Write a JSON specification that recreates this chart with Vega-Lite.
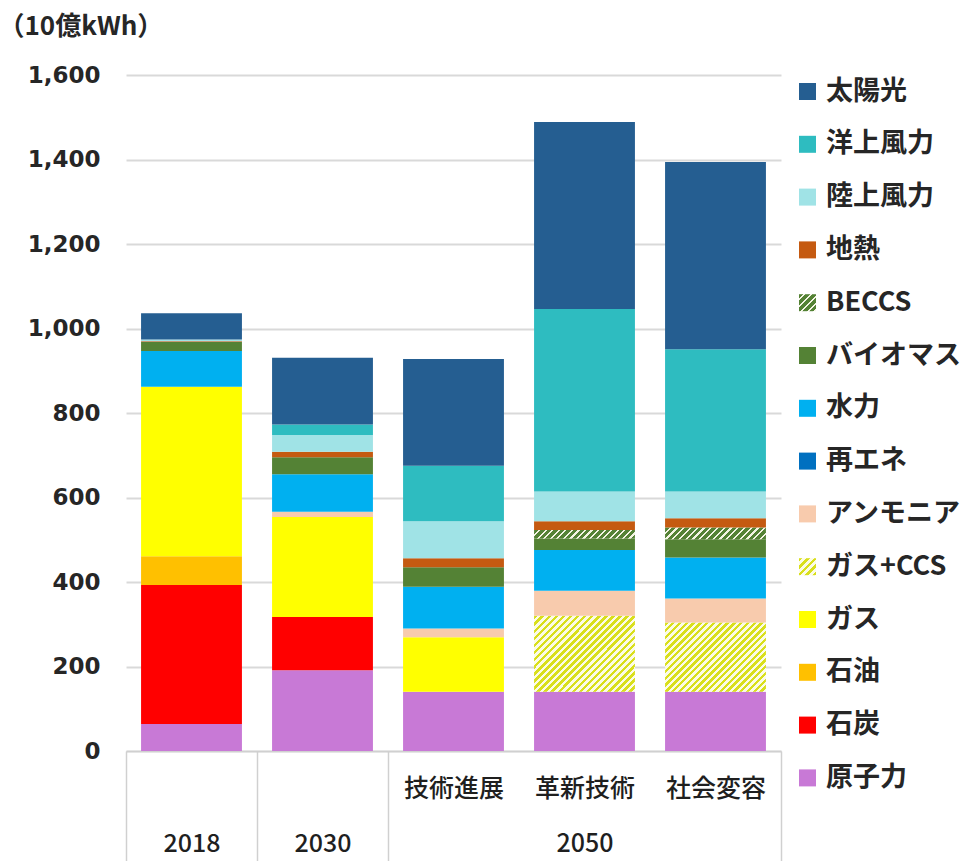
{
  "$schema": "https://vega.github.io/schema/vega-lite/v6.json",
  "width": 655,
  "height": 676,
  "autosize": {"type": "none"},
  "padding": {"left": 126, "top": 75, "right": 190, "bottom": 110},
  "background": "white",
  "config": {"view": {"stroke": null}},
  "params": [
    {"name": "gasStops", "value": [
      {"offset":0,"color":"#d9df1b"},{"offset":0.02,"color":"#d9df1b"},{"offset":0.02,"color":"#fbfbe6"},{"offset":0.04,"color":"#fbfbe6"},
      {"offset":0.04,"color":"#d9df1b"},{"offset":0.06,"color":"#d9df1b"},{"offset":0.06,"color":"#fbfbe6"},{"offset":0.08,"color":"#fbfbe6"},
      {"offset":0.08,"color":"#d9df1b"},{"offset":0.1,"color":"#d9df1b"},{"offset":0.1,"color":"#fbfbe6"},{"offset":0.12,"color":"#fbfbe6"},
      {"offset":0.12,"color":"#d9df1b"},{"offset":0.14,"color":"#d9df1b"},{"offset":0.14,"color":"#fbfbe6"},{"offset":0.16,"color":"#fbfbe6"},
      {"offset":0.16,"color":"#d9df1b"},{"offset":0.18,"color":"#d9df1b"},{"offset":0.18,"color":"#fbfbe6"},{"offset":0.2,"color":"#fbfbe6"},
      {"offset":0.2,"color":"#d9df1b"},{"offset":0.22,"color":"#d9df1b"},{"offset":0.22,"color":"#fbfbe6"},{"offset":0.24,"color":"#fbfbe6"},
      {"offset":0.24,"color":"#d9df1b"},{"offset":0.26,"color":"#d9df1b"},{"offset":0.26,"color":"#fbfbe6"},{"offset":0.28,"color":"#fbfbe6"},
      {"offset":0.28,"color":"#d9df1b"},{"offset":0.3,"color":"#d9df1b"},{"offset":0.3,"color":"#fbfbe6"},{"offset":0.32,"color":"#fbfbe6"},
      {"offset":0.32,"color":"#d9df1b"},{"offset":0.34,"color":"#d9df1b"},{"offset":0.34,"color":"#fbfbe6"},{"offset":0.36,"color":"#fbfbe6"},
      {"offset":0.36,"color":"#d9df1b"},{"offset":0.38,"color":"#d9df1b"},{"offset":0.38,"color":"#fbfbe6"},{"offset":0.4,"color":"#fbfbe6"},
      {"offset":0.4,"color":"#d9df1b"},{"offset":0.42,"color":"#d9df1b"},{"offset":0.42,"color":"#fbfbe6"},{"offset":0.44,"color":"#fbfbe6"},
      {"offset":0.44,"color":"#d9df1b"},{"offset":0.46,"color":"#d9df1b"},{"offset":0.46,"color":"#fbfbe6"},{"offset":0.48,"color":"#fbfbe6"},
      {"offset":0.48,"color":"#d9df1b"},{"offset":0.5,"color":"#d9df1b"},{"offset":0.5,"color":"#fbfbe6"},{"offset":0.52,"color":"#fbfbe6"},
      {"offset":0.52,"color":"#d9df1b"},{"offset":0.54,"color":"#d9df1b"},{"offset":0.54,"color":"#fbfbe6"},{"offset":0.56,"color":"#fbfbe6"},
      {"offset":0.56,"color":"#d9df1b"},{"offset":0.58,"color":"#d9df1b"},{"offset":0.58,"color":"#fbfbe6"},{"offset":0.6,"color":"#fbfbe6"},
      {"offset":0.6,"color":"#d9df1b"},{"offset":0.62,"color":"#d9df1b"},{"offset":0.62,"color":"#fbfbe6"},{"offset":0.64,"color":"#fbfbe6"},
      {"offset":0.64,"color":"#d9df1b"},{"offset":0.66,"color":"#d9df1b"},{"offset":0.66,"color":"#fbfbe6"},{"offset":0.68,"color":"#fbfbe6"},
      {"offset":0.68,"color":"#d9df1b"},{"offset":0.7,"color":"#d9df1b"},{"offset":0.7,"color":"#fbfbe6"},{"offset":0.72,"color":"#fbfbe6"},
      {"offset":0.72,"color":"#d9df1b"},{"offset":0.74,"color":"#d9df1b"},{"offset":0.74,"color":"#fbfbe6"},{"offset":0.76,"color":"#fbfbe6"},
      {"offset":0.76,"color":"#d9df1b"},{"offset":0.78,"color":"#d9df1b"},{"offset":0.78,"color":"#fbfbe6"},{"offset":0.8,"color":"#fbfbe6"},
      {"offset":0.8,"color":"#d9df1b"},{"offset":0.82,"color":"#d9df1b"},{"offset":0.82,"color":"#fbfbe6"},{"offset":0.84,"color":"#fbfbe6"},
      {"offset":0.84,"color":"#d9df1b"},{"offset":0.86,"color":"#d9df1b"},{"offset":0.86,"color":"#fbfbe6"},{"offset":0.88,"color":"#fbfbe6"},
      {"offset":0.88,"color":"#d9df1b"},{"offset":0.9,"color":"#d9df1b"},{"offset":0.9,"color":"#fbfbe6"},{"offset":0.92,"color":"#fbfbe6"},
      {"offset":0.92,"color":"#d9df1b"},{"offset":0.94,"color":"#d9df1b"},{"offset":0.94,"color":"#fbfbe6"},{"offset":0.96,"color":"#fbfbe6"},
      {"offset":0.96,"color":"#d9df1b"},{"offset":0.98,"color":"#d9df1b"},{"offset":0.98,"color":"#fbfbe6"},{"offset":1,"color":"#fbfbe6"}
    ]},
    {"name": "becStops", "value": [
      {"offset":0,"color":"#548235"},{"offset":0.04,"color":"#548235"},{"offset":0.04,"color":"#f4f4e4"},{"offset":0.06,"color":"#f4f4e4"},
      {"offset":0.06,"color":"#548235"},{"offset":0.1,"color":"#548235"},{"offset":0.1,"color":"#f4f4e4"},{"offset":0.12,"color":"#f4f4e4"},
      {"offset":0.12,"color":"#548235"},{"offset":0.16,"color":"#548235"},{"offset":0.16,"color":"#f4f4e4"},{"offset":0.18,"color":"#f4f4e4"},
      {"offset":0.18,"color":"#548235"},{"offset":0.22,"color":"#548235"},{"offset":0.22,"color":"#f4f4e4"},{"offset":0.24,"color":"#f4f4e4"},
      {"offset":0.24,"color":"#548235"},{"offset":0.28,"color":"#548235"},{"offset":0.28,"color":"#f4f4e4"},{"offset":0.3,"color":"#f4f4e4"},
      {"offset":0.3,"color":"#548235"},{"offset":0.34,"color":"#548235"},{"offset":0.34,"color":"#f4f4e4"},{"offset":0.36,"color":"#f4f4e4"},
      {"offset":0.36,"color":"#548235"},{"offset":0.4,"color":"#548235"},{"offset":0.4,"color":"#f4f4e4"},{"offset":0.42,"color":"#f4f4e4"},
      {"offset":0.42,"color":"#548235"},{"offset":0.46,"color":"#548235"},{"offset":0.46,"color":"#f4f4e4"},{"offset":0.48,"color":"#f4f4e4"},
      {"offset":0.48,"color":"#548235"},{"offset":0.52,"color":"#548235"},{"offset":0.52,"color":"#f4f4e4"},{"offset":0.54,"color":"#f4f4e4"},
      {"offset":0.54,"color":"#548235"},{"offset":0.58,"color":"#548235"},{"offset":0.58,"color":"#f4f4e4"},{"offset":0.6,"color":"#f4f4e4"},
      {"offset":0.6,"color":"#548235"},{"offset":0.64,"color":"#548235"},{"offset":0.64,"color":"#f4f4e4"},{"offset":0.66,"color":"#f4f4e4"},
      {"offset":0.66,"color":"#548235"},{"offset":0.7,"color":"#548235"},{"offset":0.7,"color":"#f4f4e4"},{"offset":0.72,"color":"#f4f4e4"},
      {"offset":0.72,"color":"#548235"},{"offset":0.76,"color":"#548235"},{"offset":0.76,"color":"#f4f4e4"},{"offset":0.78,"color":"#f4f4e4"},
      {"offset":0.78,"color":"#548235"},{"offset":0.82,"color":"#548235"},{"offset":0.82,"color":"#f4f4e4"},{"offset":0.84,"color":"#f4f4e4"},
      {"offset":0.84,"color":"#548235"},{"offset":0.88,"color":"#548235"},{"offset":0.88,"color":"#f4f4e4"},{"offset":0.9,"color":"#f4f4e4"},
      {"offset":0.9,"color":"#548235"},{"offset":0.94,"color":"#548235"},{"offset":0.94,"color":"#f4f4e4"},{"offset":0.96,"color":"#f4f4e4"},
      {"offset":0.96,"color":"#548235"},{"offset":1,"color":"#548235"}
    ]}
  ],
  "data": {"values": [
    {"cat": "2018", "source": "原子力", "value": 64},
    {"cat": "2018", "source": "石炭", "value": 329},
    {"cat": "2018", "source": "石油", "value": 68},
    {"cat": "2018", "source": "ガス", "value": 401},
    {"cat": "2018", "source": "水力", "value": 85},
    {"cat": "2018", "source": "バイオマス", "value": 21},
    {"cat": "2018", "source": "地熱", "value": 2},
    {"cat": "2018", "source": "陸上風力", "value": 4},
    {"cat": "2018", "source": "太陽光", "value": 62},
    {"cat": "2030", "source": "原子力", "value": 191},
    {"cat": "2030", "source": "石炭", "value": 126},
    {"cat": "2030", "source": "ガス", "value": 237},
    {"cat": "2030", "source": "アンモニア", "value": 12},
    {"cat": "2030", "source": "水力", "value": 89},
    {"cat": "2030", "source": "バイオマス", "value": 40},
    {"cat": "2030", "source": "地熱", "value": 13},
    {"cat": "2030", "source": "陸上風力", "value": 40},
    {"cat": "2030", "source": "洋上風力", "value": 25},
    {"cat": "2030", "source": "太陽光", "value": 158},
    {"cat": "技術進展", "source": "原子力", "value": 140},
    {"cat": "技術進展", "source": "ガス", "value": 129},
    {"cat": "技術進展", "source": "アンモニア", "value": 21},
    {"cat": "技術進展", "source": "水力", "value": 99},
    {"cat": "技術進展", "source": "バイオマス", "value": 46},
    {"cat": "技術進展", "source": "地熱", "value": 21},
    {"cat": "技術進展", "source": "陸上風力", "value": 88},
    {"cat": "技術進展", "source": "洋上風力", "value": 131},
    {"cat": "技術進展", "source": "太陽光", "value": 253},
    {"cat": "革新技術", "source": "原子力", "value": 140},
    {"cat": "革新技術", "source": "ガス+CCS", "value": 180},
    {"cat": "革新技術", "source": "アンモニア", "value": 59},
    {"cat": "革新技術", "source": "水力", "value": 97},
    {"cat": "革新技術", "source": "バイオマス", "value": 27},
    {"cat": "革新技術", "source": "BECCS", "value": 20},
    {"cat": "革新技術", "source": "地熱", "value": 21},
    {"cat": "革新技術", "source": "陸上風力", "value": 70},
    {"cat": "革新技術", "source": "洋上風力", "value": 432},
    {"cat": "革新技術", "source": "太陽光", "value": 443},
    {"cat": "社会変容", "source": "原子力", "value": 140},
    {"cat": "社会変容", "source": "ガス+CCS", "value": 164},
    {"cat": "社会変容", "source": "アンモニア", "value": 57},
    {"cat": "社会変容", "source": "水力", "value": 97},
    {"cat": "社会変容", "source": "バイオマス", "value": 43},
    {"cat": "社会変容", "source": "BECCS", "value": 28},
    {"cat": "社会変容", "source": "地熱", "value": 22},
    {"cat": "社会変容", "source": "陸上風力", "value": 63},
    {"cat": "社会変容", "source": "洋上風力", "value": 337},
    {"cat": "社会変容", "source": "太陽光", "value": 443}
  ]},
  "transform": [
    {"calculate": "indexof(['原子力','石炭','石油','ガス','ガス+CCS','アンモニア','再エネ','水力','バイオマス','BECCS','地熱','陸上風力','洋上風力','太陽光'], datum.source)", "as": "ord"}
  ],
  "mark": {"type": "bar", "width": {"band": 0.77}},
  "encoding": {
    "x": {
      "field": "cat", "type": "nominal",
      "sort": ["2018", "2030", "技術進展", "革新技術", "社会変容"],
      "scale": {"paddingInner": 0, "paddingOuter": 0},
      "axis": {
        "title": null,
        "domain": true, "domainColor": "#d0d0d0", "domainWidth": 1.5,
        "ticks": true, "tickBand": "extent", "tickSize": 110, "tickColor": "#d0d0d0", "tickWidth": 1.5,
        "tickOpacity": {"condition": {"test": "datum.value == '技術進展' || datum.value == '革新技術'", "value": 0}, "value": 1},
        "labelExpr": "datum.value == '2018' ? ['', '2018'] : datum.value == '2030' ? ['', '2030'] : datum.value == '革新技術' ? ['革新技術', '2050'] : [datum.value, '']",
        "labelAngle": 0,
        "labelFont": "Noto Sans CJK JP", "labelFontSize": 25, "labelFontWeight": 500, "labelColor": "#1f1f1f",
        "labelLineHeight": 55, "labelPadding": -85
      }
    },
    "y": {
      "field": "value", "type": "quantitative", "stack": "zero",
      "scale": {"domain": [0, 1600], "nice": false},
      "axis": {
        "values": [0, 200, 400, 600, 800, 1000, 1200, 1400, 1600],
        "format": ",d",
        "domain": false, "ticks": false,
        "grid": true, "gridColor": "#d9d9d9", "gridWidth": 2,
        "labelFont": "DejaVu Sans", "labelFontWeight": "bold", "labelFontSize": 23, "labelColor": "#262626",
        "labelPadding": 26,
        "title": "（10億kWh）",
        "titleFont": "Noto Sans CJK JP", "titleFontWeight": "bold", "titleFontSize": 26, "titleColor": "#262626",
        "titleAngle": 0, "titleAlign": "left", "titleBaseline": "top",
        "titleX": -128, "titleY": -62
      }
    },
    "order": {"field": "ord", "type": "quantitative"},
    "color": {
      "condition": [
        {"test": "datum.source == 'ガス+CCS' && datum.cat == '革新技術'", "value": {"expr": "{gradient: 'linear', x1: 0, y1: 0, x2: 1.119, y2: 0.842, stops: gasStops}"}},
        {"test": "datum.source == 'ガス+CCS' && datum.cat == '社会変容'", "value": {"expr": "{gradient: 'linear', x1: 0, y1: 0, x2: 1.146, y2: 0.787, stops: gasStops}"}},
        {"test": "datum.source == 'BECCS' && datum.cat == '革新技術'", "value": {"expr": "{gradient: 'linear', x1: 0, y1: 0, x2: 1.076, y2: 0.090, stops: becStops}"}},
        {"test": "datum.source == 'BECCS' && datum.cat == '社会変容'", "value": {"expr": "{gradient: 'linear', x1: 0, y1: 0, x2: 1.102, y2: 0.129, stops: becStops}"}}
      ],
      "field": "source", "type": "nominal",
      "scale": {
        "domain": ["太陽光", "洋上風力", "陸上風力", "地熱", "BECCS", "バイオマス", "水力", "再エネ", "アンモニア", "ガス+CCS", "ガス", "石油", "石炭", "原子力"],
        "range": ["#255E91", "#2EBCC0", "#A0E3E6", "#C55A11",
          {"expr": "{gradient: 'linear', x1: 0, y1: 0, x2: 3.33, y2: 3.33, stops: becStops}"},
          "#548235", "#00B0F0", "#0070C0", "#F8CBAD",
          {"expr": "{gradient: 'linear', x1: 0, y1: 0, x2: 5.5, y2: 5.5, stops: gasStops}"},
          "#FFFF00", "#FFC000", "#FF0000", "#C879D6"]
      },
      "legend": {
        "title": null,
        "orient": "right", "offset": 10, "padding": 3,
        "symbolType": "square", "symbolSize": 289, "symbolStrokeWidth": 0, "symbolOpacity": 1,
        "labelFont": "Noto Sans CJK JP", "labelFontSize": 27, "labelFontWeight": "bold", "labelColor": "#262626",
        "labelOffset": 5, "labelLimit": 300, "rowPadding": 24.8
      }
    }
  }
}
